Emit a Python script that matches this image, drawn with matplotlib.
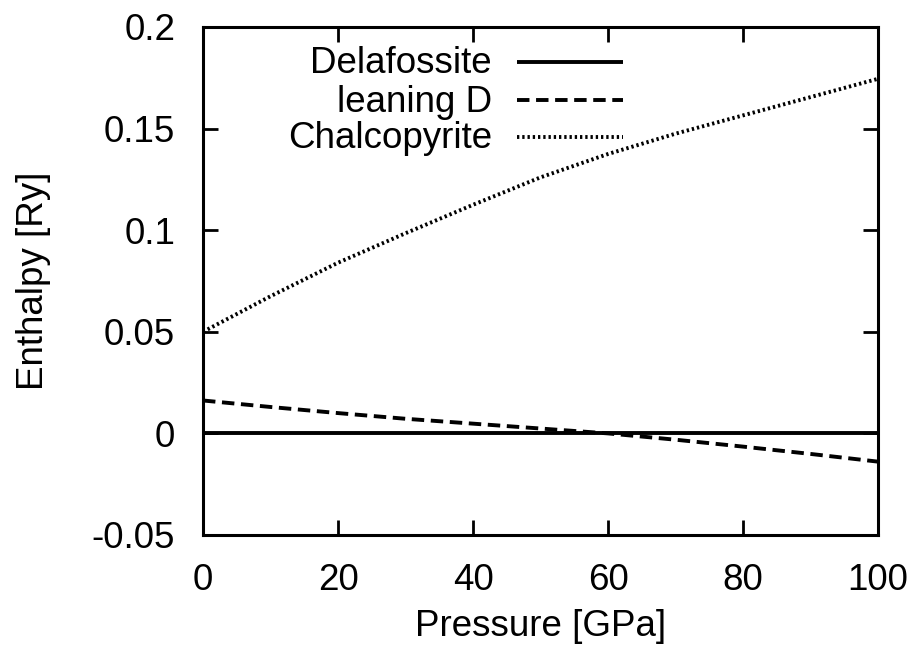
import matplotlib
matplotlib.use("Agg")
import matplotlib.pyplot as plt
import numpy as np

pressure = [0, 10, 20, 30, 40, 50, 60, 70, 80, 90, 100]
delafossite = [0, 0, 0, 0, 0, 0, 0, 0, 0, 0, 0]
leaning_d = [0.0162, 0.0130, 0.0100, 0.0072, 0.0048, 0.0024, 0.0000, -0.0031, -0.0065, -0.0101, -0.0139]
chalcopyrite = [0.0500, 0.0675, 0.0840, 0.0985, 0.1125, 0.1260, 0.1375, 0.1475, 0.1565, 0.1655, 0.1745]

labels = ["Delafossite", "leaning D", "Chalcopyrite"]
xticks = [0, 20, 40, 60, 80, 100]
yticks = [-0.05, 0, 0.05, 0.1, 0.15, 0.2]
yticklabels = ["-0.05", "0", "0.05", "0.1", "0.15", "0.2"]

FS = 26.5
plt.rcParams['font.family'] = ['Liberation Sans', 'DejaVu Sans']
plt.rcParams['font.size'] = FS

fig = plt.figure(figsize=(9.17, 6.47), dpi=100)
ax = fig.add_axes([203/917, 1-535/647, 675/917, 508/647])

lw = 2.8
styles = [dict(ls='-'), dict(dashes=(3.2, 1.7)), dict(dashes=(0.6, 0.75))]
series = [delafossite, leaning_d, chalcopyrite]
for s, st in zip(series, styles):
    ax.plot(pressure, s, color='black', lw=lw, solid_capstyle='butt', dash_capstyle='butt', **st)

ax.set_xlim(0, 100)
ax.set_ylim(-0.05, 0.2)
ax.set_xticks(xticks)
ax.set_xticklabels([str(x) for x in xticks])
ax.set_yticks(yticks)
ax.set_yticklabels(yticklabels)
ax.tick_params(direction='in', length=11, width=2, top=True, right=True, labelsize=FS)
ax.tick_params(axis='x', pad=20)
ax.tick_params(axis='y', pad=20)
for sp in ax.spines.values():
    sp.set_linewidth(2.2)

ax.set_xlabel("Pressure [GPa]", fontsize=FS, va='center', ha='center')
ax.set_ylabel("Enthalpy [Ry]", fontsize=FS, va='center', ha='center')
ax.xaxis.set_label_coords(0.5, (535-626)/508)
ax.yaxis.set_label_coords((34-203)/675, 0.5)

# legend (gnuplot style: right-aligned text, sample on right)
ys = [0.9317, 0.856, 0.784]
for lab, st, yy in zip(labels, styles, ys):
    ax.text(0.428, yy - 0.004, lab, transform=ax.transAxes, ha='right', va='center', fontsize=FS)
    ax.plot([0.465, 0.622], [yy, yy], transform=ax.transAxes, color='black', lw=lw,
            solid_capstyle='butt', dash_capstyle='butt', **st)

fig.savefig("out.png", dpi=100)
